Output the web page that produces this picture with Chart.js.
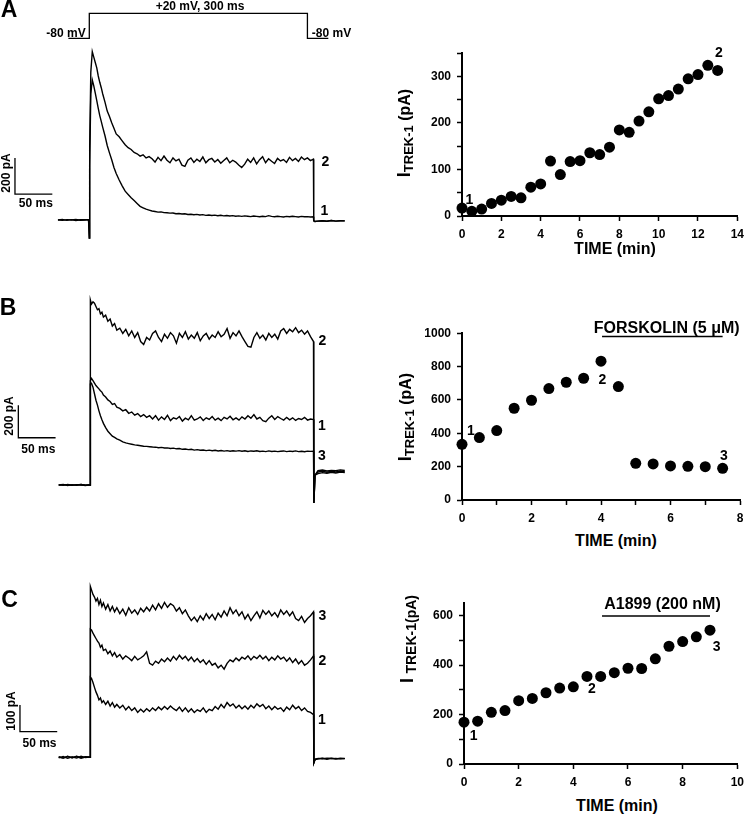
<!DOCTYPE html>
<html><head><meta charset="utf-8">
<script src="https://cdn.jsdelivr.net/npm/chart.js@4.4.1/dist/chart.umd.min.js"></script>
<style>
html,body{margin:0;padding:0;background:#fff;}
body{width:750px;height:816px;position:relative;overflow:hidden;font-family:"Liberation Sans",Arial,sans-serif;font-weight:bold;color:#000;}
canvas{position:absolute;}
.t{position:absolute;transform:translate(-50%,-50%);white-space:nowrap;line-height:1;}
.r{position:absolute;transform:translate(-50%,-50%) rotate(-90deg);white-space:nowrap;line-height:1;}
.r sub{font-size:13px;vertical-align:-3px;}
</style></head><body>
<canvas id="trA" style="left:0;top:0" width="370" height="260"></canvas>
<canvas id="trB" style="left:0;top:270px" width="370" height="260"></canvas>
<canvas id="trC" style="left:0;top:545px" width="370" height="271"></canvas>
<canvas id="dotA" style="left:370px;top:40px" width="380" height="220"></canvas>
<canvas id="dotB" style="left:370px;top:320px" width="380" height="210"></canvas>
<canvas id="dotC" style="left:370px;top:590px" width="380" height="200"></canvas>

<div class="t" style="left:9px;top:9px;font-size:23px">A</div>
<div class="t" style="left:8px;top:307px;font-size:23px">B</div>
<div class="t" style="left:9.5px;top:599px;font-size:23px">C</div>

<div class="t" style="left:200px;top:6px;font-size:12px">+20 mV, 300 ms</div>
<div class="t" style="left:66px;top:32.5px;font-size:12px">-80 mV</div>
<div class="t" style="left:331.5px;top:32.5px;font-size:12px">-80 mV</div>

<div class="t" style="left:325.5px;top:160.7px;font-size:14px">2</div>
<div class="t" style="left:324.5px;top:210px;font-size:14px">1</div>
<div class="r" style="left:6px;top:172.5px;font-size:12px">200 pA</div>
<div class="t" style="left:35.8px;top:203.3px;font-size:12px">50 ms</div>

<div class="t" style="left:322.5px;top:340px;font-size:14px">2</div>
<div class="t" style="left:322px;top:425px;font-size:14px">1</div>
<div class="t" style="left:322px;top:455px;font-size:14px">3</div>
<div class="r" style="left:9px;top:416px;font-size:12px">200 pA</div>
<div class="t" style="left:38.3px;top:448.8px;font-size:12px">50 ms</div>

<div class="t" style="left:322.5px;top:615px;font-size:14px">3</div>
<div class="t" style="left:322.5px;top:660px;font-size:14px">2</div>
<div class="t" style="left:322px;top:719px;font-size:14px">1</div>
<div class="r" style="left:11px;top:711px;font-size:12px">100 pA</div>
<div class="t" style="left:39.5px;top:742.8px;font-size:12px">50 ms</div>

<div class="r" style="left:405px;top:133px;font-size:16px"><span style="font-size:18px">I</span><sub>TREK-1</sub> (pA)</div>
<div class="t" style="left:615px;top:249px;font-size:16px">TIME (min)</div>
<div class="t" style="left:469.3px;top:199px;font-size:14px">1</div>
<div class="t" style="left:719px;top:52.3px;font-size:14px">2</div>

<div class="r" style="left:405.5px;top:416.7px;font-size:16px"><span style="font-size:18px">I</span><sub>TREK-1</sub> (pA)</div>
<div class="t" style="left:616px;top:541px;font-size:16px">TIME (min)</div>
<div class="t" style="left:666.7px;top:327.5px;font-size:16px">FORSKOLIN (5 μM)</div>
<div class="t" style="left:471px;top:429.5px;font-size:14px">1</div>
<div class="t" style="left:602.3px;top:378.7px;font-size:14px">2</div>
<div class="t" style="left:724px;top:455px;font-size:14px">3</div>

<div class="r" style="left:408px;top:639px;font-size:16px"><span style="font-size:18px">I</span> <sub style="font-size:14px">TREK-1(pA)</sub></div>
<div class="t" style="left:617px;top:806px;font-size:16px">TIME (min)</div>
<div class="t" style="left:662.5px;top:604px;font-size:16px">A1899 (200 nM)</div>
<div class="t" style="left:473.7px;top:735.3px;font-size:14px">1</div>
<div class="t" style="left:592px;top:687.7px;font-size:14px">2</div>
<div class="t" style="left:716.7px;top:645.7px;font-size:14px">3</div>

<script>
// ---------- Current traces (ms, pA) ----------
const timeMs = [
 -42,-36,-30,-24,-18,-12,-6,-1,
 0,0.5,2,4,
 6,8,10,12,14,16,18,21,24,27,30,33,36,40,44,48,52,56,60,64,68,72,76,80,
 84,88,92,96,100,104,108,112,116,120,
 124,128,132,136,140,144,148,152,156,160,
 164,168,172,176,180,184,188,192,196,200,
 204,208,212,216,220,224,228,232,236,240,
 244,248,252,256,260,264,268,272,276,280,
 284,288,292,296,
 300,300.5,302,
 306,312,318,324,330,336,342];

const traceA1 = [
 0,3,-2,2,-3,1,2,0,
 -100,300,700,778,
 745,705,663,620,580,548,515,468,414,373,335,292,258,222,190,160,142,124,108,92,76,68,60,55,
 50,47,44,45,41,40,38,39,35,36,
 33,35,31,32,29,31,28,30,26,28,
 25,27,24,26,23,25,22,24,21,23,
 20,23,21,19,22,20,18,21,19,24,
 20,18,21,19,17,20,18,21,19,17,
 20,18,19,17,
 18,-5,-8,
 -6,-4,-7,-3,-6,-4,-5];
const traceA2 = [
 1,-2,2,0,3,-1,0,2,
 -100,400,820,935,
 905,875,845,800,765,735,700,655,605,575,540,510,478,462,440,418,402,392,375,368,355,362,345,352,
 340,322,348,330,355,332,318,345,328,338,
 305,298,332,345,320,338,325,350,318,335,
 342,322,336,315,330,345,318,332,322,305,
 292,310,338,320,345,312,335,352,318,340,
 326,314,342,328,336,320,348,330,342,325,
 350,335,345,330,
 338,-5,-8,
 -6,-4,-7,-3,-6,-4,-5];

const traceB1 = [
 1,-2,3,-1,2,0,-3,1,
 0,640,654,640,
 625,610,600,590,578,570,552,540,522,512,495,500,478,470,455,462,440,448,428,438,420,432,415,425,
 405,425,398,418,402,428,395,412,405,420,
 392,410,400,425,398,405,418,396,412,402,
 420,398,410,395,415,405,422,400,412,398,
 418,405,425,410,432,405,415,395,388,410,
 425,402,420,408,398,415,400,412,396,408,
 402,415,398,405,
 402,-110,60,
 70,76,72,78,74,79,76];
const traceB2 = [
 0,4,-3,2,-2,3,-1,0,
 0,1135,1110,1124,
 1115,1095,1075,1082,1050,1060,1030,1042,1005,1018,975,990,950,962,930,955,915,945,905,935,880,862,905,890,
 930,945,905,880,925,900,935,915,870,930,
 905,940,895,920,900,935,885,915,930,895,
 920,905,940,910,925,960,900,935,915,945,
 910,880,850,845,905,935,900,920,890,930,
 905,925,895,945,960,930,955,940,965,935,
 950,925,945,910,
 880,-110,60,
 80,85,78,84,80,86,82];
const traceB3 = [
 -1,2,0,-2,1,3,-1,0,
 0,620,624,600,
 560,520,490,455,425,400,378,352,330,315,300,292,283,275,265,258,254,250,246,244,241,238,237,235,
 233,232,229,231,227,228,224,226,222,224,
 219,221,217,219,214,217,213,215,211,214,
 210,213,209,212,208,211,207,210,208,211,
 207,210,206,209,207,210,206,208,205,209,
 206,208,205,207,209,205,208,206,209,205,
 207,204,208,206,
 207,-110,60,
 88,92,86,90,88,93,89];

const traceC1 = [
 1,-3,3,-2,4,-1,2,0,
 0,300,296,280,
 262,245,232,215,222,205,212,198,210,192,205,188,198,185,195,178,190,175,185,168,180,170,182,172,
 185,175,188,178,190,180,192,182,175,188,
 172,185,170,182,168,178,172,185,168,180,
 175,190,180,198,185,205,192,200,185,195,
 182,192,180,195,185,200,190,198,182,192,
 178,190,180,185,172,188,178,195,182,190,
 175,185,172,168,
 160,-20,-8,
 -6,-4,-5,-3,-6,-5,-4];
const traceC2 = [
 -2,3,-4,2,-3,4,-1,1,
 0,480,477,465,
 455,445,435,428,412,420,400,405,388,398,380,392,375,385,368,380,372,362,378,365,372,380,395,352,
 345,360,352,368,358,372,360,378,365,382,
 368,378,362,375,358,370,355,365,348,362,
 345,352,335,345,330,352,365,358,372,362,
 375,368,380,365,378,370,382,368,378,362,
 375,365,380,368,375,360,372,355,368,350,
 362,345,352,365,
 380,-20,-8,
 -4,-6,-3,-5,-4,-6,-5];
const traceC3 = [
 2,-3,4,-2,3,-4,1,0,
 0,640,627,610,
 600,585,595,572,588,565,578,555,572,548,565,545,560,538,555,532,560,540,552,535,558,545,562,548,
 570,552,575,558,580,562,575,568,548,560,
 538,552,530,512,525,508,530,515,538,520,
 535,515,540,525,548,530,560,538,552,530,
 545,518,535,512,530,545,522,550,535,548,
 530,542,525,552,535,548,530,545,520,512,
 528,505,520,530,
 545,-20,-8,
 -5,-3,-7,-4,-6,-3,-5];

// voltage protocol (ms, mV)
const protocolMs = [-28,0,0,292,292,320];
const protocolMv = [-80,-80,20,20,-80,-80];

// ---------- Time courses (min, pA) ----------
const timeMinA = [0,0.5,1,1.5,2,2.5,3,3.5,4,4.5,5,5.5,6,6.5,7,7.5,8,8.5,9,9.5,10,10.5,11,11.5,12,12.5,13];
const currentA = [17,10,15,27,34,42,39,62,69,118,89,117,119,136,132,148,185,180,204,224,252,259,273,295,304,324,313];
const timeMinB = [0,0.5,1,1.5,2,2.5,3,3.5,4,4.5,5,5.5,6,6.5,7,7.5];
const currentB = [334,374,416,550,598,668,706,730,832,680,220,216,204,202,200,190];
const timeMinC = [0,0.5,1,1.5,2,2.5,3,3.5,4,4.5,5,5.5,6,6.5,7,7.5,8,8.5,9];
const currentC = [169,173,209,216,256,265,288,307,312,354,354,369,387,386,425,476,495,514,541];

// drug application periods (min)
const forskolinMin = [4.03,7.5];
const a1899Min = [5.05,9.0];

// tick labels
const xTickLabelsA = [0,2,4,6,8,10,12,14];
const yTickLabelsA = [0,100,200,300];
const xTickLabelsB = [0,2,4,6,8];
const yTickLabelsB = [0,200,400,600,800,1000];
const xTickLabelsC = [0,2,4,6,8,10];
const yTickLabelsC = [0,200,400,600];

// ---------- helpers ----------
const pts = (xs, ys) => xs.map((x, i) => ({x: x, y: ys[i]}));
const FONT = 'Liberation Sans, Arial, sans-serif';

function lineDs(data, w, axis) {
  return {data: data, showLine: true, borderColor: '#000', borderWidth: w || 1.4,
          pointRadius: 0, fill: false, tension: 0, yAxisID: axis || 'y', clip: false};
}

function traceChart(id, g, traces, bar, proto) {
  const W = 370;
  const xmin = -g.x0 / g.pxPerMs, xmax = (W - g.x0) / g.pxPerMs;
  const ymax = (g.base - g.top) / g.pxPerPA, ymin = (g.base - g.top - g.height) / g.pxPerPA;
  const ds = traces.map(tr => lineDs(pts(timeMs, tr), 1.4));
  // scale bar: vertical (pA) + horizontal (50 ms)
  ds.push(lineDs([{x: bar.t, y: bar.v + bar.pa}, {x: bar.t, y: bar.v}, {x: bar.t + 50, y: bar.v}], 1.3));
  const scales = {
    x: {type: 'linear', display: false, min: xmin, max: xmax},
    y: {type: 'linear', display: false, min: ymin, max: ymax}
  };
  if (proto) {
    ds.push(lineDs(pts(protocolMs, protocolMv), 1.3, 'yv'));
    scales.yv = {type: 'linear', display: false,
      min: proto.mv0 - (g.height - proto.px0) / proto.pxPerMv,
      max: proto.mv0 + proto.px0 / proto.pxPerMv};
  }
  new Chart(document.getElementById(id), {
    type: 'scatter',
    data: {datasets: ds},
    options: {responsive: false, animation: false, layout: {padding: 0},
      plugins: {legend: {display: false}, tooltip: {enabled: false}},
      scales: scales}
  });
}

function dotChart(id, c) {
  const ds = [{data: pts(c.t, c.v), backgroundColor: '#000', borderWidth: 0,
               pointRadius: 5.5, pointStyle: 'circle', clip: false}];
  if (c.drug) ds.push(lineDs([{x: c.drug[0], y: c.drugY}, {x: c.drug[1], y: c.drugY}], 1.5));
  const tickFont = {family: FONT, weight: 'bold', size: 12};
  const grid = {display: true, drawOnChartArea: false, drawTicks: true, tickLength: 5,
                tickWidth: 1.5, tickColor: '#000'};
  const border = {display: true, color: '#000', width: 2};
  new Chart(document.getElementById(id), {
    type: 'scatter',
    data: {datasets: ds},
    options: {responsive: false, animation: false,
      layout: {padding: {left: 0, right: c.padR, top: c.padT, bottom: 0}},
      plugins: {legend: {display: false}, tooltip: {enabled: false}},
      scales: {
        x: {type: 'linear', min: 0, max: c.xmax, grid: grid, border: border,
            afterFit: s => { s.height = c.xH; },
            ticks: {stepSize: c.xstep, autoSkip: false, maxRotation: 0, includeBounds: false,
                    color: '#000', font: tickFont, padding: 6,
                    callback: v => c.xl.includes(v) ? String(v) : ''}},
        y: {type: 'linear', min: 0, max: c.ymax, grid: grid, border: border,
            afterFit: s => { s.width = c.yW; },
            ticks: {stepSize: c.ystep, autoSkip: false, includeBounds: false,
                    color: '#000', font: tickFont, padding: 6,
                    callback: v => c.yl.includes(v) ? String(v) : ''}}
      }}
  });
}

// ---------- draw ----------
traceChart('trA', {top: 0, height: 260, x0: 89.3, pxPerMs: 0.747, base: 220, pxPerPA: 0.18},
  [traceA1, traceA2], {t: -99.5, v: 144, pa: 200},
  {mv0: 20, px0: 13.3, pxPerMv: 0.25});
traceChart('trB', {top: 270, height: 260, x0: 90, pxPerMs: 0.745, base: 485, pxPerPA: 0.163},
  [traceB1, traceB2, traceB3], {t: -96.2, v: 290, pa: 200});
traceChart('trC', {top: 545, height: 271, x0: 90, pxPerMs: 0.745, base: 757.3, pxPerPA: 0.267},
  [traceC1, traceC2, traceC3], {t: -94, v: 96, pa: 100});

dotChart('dotA', {t: timeMinA, v: currentA, xmax: 14, xstep: 2, xl: xTickLabelsA,
  ymax: 350, ystep: 50, yl: yTickLabelsA, yW: 92, xH: 44, padR: 8, padT: 11});
dotChart('dotB', {t: timeMinB, v: currentB, xmax: 8, xstep: 1, xl: xTickLabelsB,
  ymax: 1000, ystep: 200, yl: yTickLabelsB, yW: 92, xH: 30, padR: 10, padT: 13,
  drug: forskolinMin, drugY: 980});
dotChart('dotC', {t: timeMinC, v: currentC, xmax: 10, xstep: 2, xl: xTickLabelsC,
  ymax: 650, ystep: 100, yl: yTickLabelsC, yW: 94, xH: 26, padR: 9, padT: 9,
  drug: a1899Min, drugY: 598});
</script>
</body></html>
